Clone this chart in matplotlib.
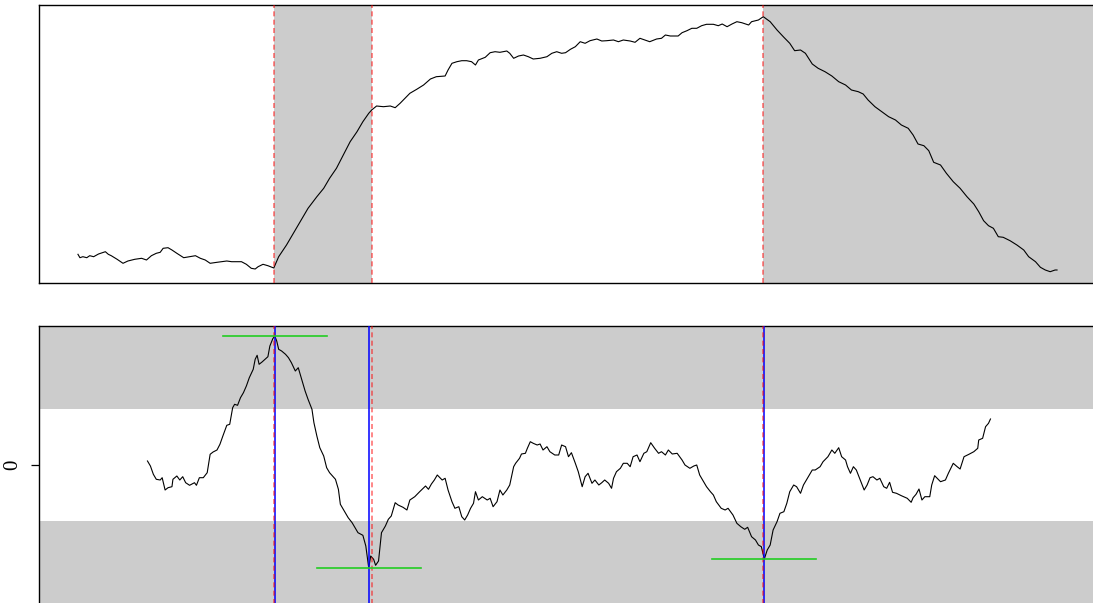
import matplotlib
matplotlib.use("Agg")
import matplotlib.pyplot as plt

# ---------------------------------------------------------------- data
# Level series (upper panel): time index and level
level_t = [
    0, 2, 5, 9, 12, 16, 21, 28, 31, 34,
    40, 46, 51, 58, 65, 70, 75, 80, 84, 87,
    92, 96, 101, 108, 114, 120, 125, 130, 135, 142,
    147, 152, 157, 162, 167, 172, 177, 181, 184, 189,
    194, 200,
    205, 213, 220, 227, 235, 244, 251, 257, 264, 271,
    278, 285, 291, 297, 300, 305, 312, 319, 324, 329,
    334, 339, 346, 353, 360, 366, 375, 378, 382, 387,
    392, 397, 402, 406, 409, 416, 421, 426, 431, 438,
    441, 445, 450, 455, 460, 465, 472, 479, 484, 489,
    494, 498, 503, 508, 513, 518, 523, 530, 535, 540,
    547, 552, 557, 564, 569, 574, 579, 584, 591, 596,
    600, 605, 613, 617, 622, 627, 632, 637, 642, 649,
    654, 658, 663, 668, 673, 678, 685, 688, 695, 700,
    707, 714, 721, 727, 732, 738, 743, 750, 756, 763,
    770, 777, 784, 790, 797, 802, 807, 814, 821, 828,
    835, 841, 848, 853, 858, 864, 869, 874, 881, 887,
    894, 901, 908, 915, 920, 925, 930, 935, 940, 945,
    952, 959, 966, 971, 978, 983, 988, 993, 998, 1000,
]
level_v = [
    25.7, 22.3, 23.3, 22.3, 24.3, 23.3, 26.0, 28.3, 25.7, 24.3,
    20.7, 16.7, 19.0, 20.7, 21.7, 20.0, 24.3, 26.7, 27.7, 31.7,
    32.3, 30.0, 26.7, 22.3, 23.3, 24.3, 21.7, 20.0, 16.7, 17.7,
    18.3, 19.0, 18.3, 18.3, 18.3, 15.7, 11.7, 11.0, 13.3, 15.7,
    14.3, 12.0,
    23.3, 35.0, 46.7, 58.3, 71.7, 83.3, 91.7, 101.7, 111.7, 125.0,
    138.3, 148.3, 158.3, 166.7, 170.0, 174.0, 173.3, 174.0, 172.3, 176.7,
    181.7, 186.7, 190.7, 195.0, 201.0, 203.3, 204.0, 210.0, 216.7, 218.3,
    219.3, 219.3, 218.3, 215.0, 220.0, 222.7, 227.3, 228.3, 227.7, 229.0,
    226.7, 221.7, 224.0, 225.0, 223.3, 221.0, 221.7, 223.3, 226.7, 228.3,
    226.7, 227.3, 230.7, 233.3, 238.3, 236.7, 239.3, 241.0, 239.0, 239.3,
    240.0, 238.3, 240.0, 239.0, 237.7, 241.7, 240.0, 238.3, 241.0, 241.7,
    245.0, 244.0, 244.0, 247.3, 249.3, 251.7, 251.7, 254.3, 255.7, 255.7,
    254.3, 256.0, 253.3, 256.0, 258.3, 257.3, 255.0, 258.3, 260.0, 263.3,
    258.3, 250.0, 242.7, 236.7, 229.3, 230.0, 226.7, 216.0, 211.7, 208.3,
    204.0, 198.3, 195.0, 190.0, 188.3, 186.0, 180.0, 173.3, 168.3, 163.3,
    160.0, 155.0, 151.7, 145.0, 136.0, 134.3, 129.3, 117.7, 115.0, 106.7,
    98.3, 91.7, 83.3, 76.0, 68.3, 59.3, 54.3, 51.7, 43.3, 42.7,
    39.3, 35.0, 30.0, 23.3, 18.3, 12.7, 10.0, 8.3, 10.0, 10.0,
]

# Oscillator series (lower panel): time index and value
osc_t = [
    71, 74, 77, 80, 84, 86, 89, 92, 96, 97,
    101, 104, 107, 110, 114, 119, 121, 124, 128, 132,
    135, 138, 142, 145, 148, 152, 155, 158, 160, 163,
    166, 169, 172, 175, 179, 181, 183, 185, 188, 191,
    194, 196, 199, 201, 203, 205, 208, 212, 215, 218,
    222, 225, 229, 232, 235, 239, 241, 244, 247, 251,
    254, 257, 263, 266, 268, 273, 276, 280, 283, 286,
    291, 294, 297, 299, 302, 304, 307, 310, 314, 317,
    320, 324, 327, 332, 336, 339, 344, 349, 355, 358,
    361, 364, 367, 372, 375, 378, 382, 385, 389, 392,
    395, 398, 401, 404, 406, 409, 413, 418, 421, 424,
    428, 431, 434, 438, 441, 445, 447, 451, 453, 457,
    459, 462, 465, 469, 472, 475, 479, 482, 487, 491,
    494, 498, 501, 504, 508, 511, 515, 518, 521, 525,
    528, 532, 535, 538, 542, 545, 547, 550, 554, 557,
    561, 564, 567, 571, 574, 578, 581, 585, 589, 593,
    596, 600, 603, 607, 612, 617, 620, 625, 629, 632,
    635, 639, 642, 646, 649, 652, 657, 661, 664, 669,
    673, 677, 681, 684, 688, 692, 695, 698, 701, 704,
    707, 710, 714, 717, 721, 724, 727, 731, 734, 738,
    741, 744, 750, 753, 758, 761, 766, 770, 773, 777,
    780, 784, 786, 789, 792, 795, 799, 803, 806, 809,
    812, 816, 819, 823, 826, 829, 832, 836, 841, 847,
    851, 853, 856, 859, 862, 865, 870, 872, 875, 881,
    886, 889, 894, 898, 901, 905, 910, 915, 919, 920,
    924, 927, 930, 932,
]
osc_v = [
    4.0, -1.0, -9.3, -14.3, -15.0, -12.7, -25.0, -22.7, -21.7, -14.3,
    -11.0, -15.0, -11.7, -17.7, -20.3, -17.7, -20.3, -12.7, -12.7, -7.7,
    10.7, 13.0, 15.0, 20.7, 29.0, 39.7, 40.7, 57.3, 60.7, 59.7,
    67.3, 72.3, 79.0, 87.3, 95.7, 105.7, 109.7, 100.7, 103.0, 105.7,
    108.3, 119.0, 126.3, 129.0, 124.0, 115.7, 114.0, 110.7, 107.3, 102.3,
    94.0, 97.3, 84.0, 74.0, 65.7, 55.7, 42.3, 29.0, 17.3, 9.0,
    -2.7, -7.7, -14.3, -24.3, -39.3, -47.7, -52.7, -57.7, -62.7, -67.7,
    -70.3, -81.0, -103.0, -91.0, -94.3, -100.3, -96.0, -67.7, -61.0, -54.3,
    -51.0, -37.7, -40.0, -42.3, -45.0, -35.0, -31.7, -26.7, -21.0, -24.3,
    -19.0, -15.0, -10.0, -15.0, -13.3, -25.0, -36.7, -43.3, -41.7, -51.7,
    -55.0, -50.0, -43.3, -38.3, -26.7, -35.0, -31.7, -35.0, -33.3, -41.7,
    -36.7, -25.0, -30.0, -25.0, -20.0, -1.7, 1.7, 6.7, 11.0, 11.7,
    16.7, 23.3, 21.7, 20.0, 21.0, 15.0, 18.3, 13.3, 10.0, 10.0,
    20.0, 18.3, 8.3, 12.3, 1.7, -6.7, -21.7, -11.7, -8.3, -18.3,
    -15.0, -20.0, -17.7, -15.0, -18.3, -23.3, -13.3, -6.7, -3.3, 1.7,
    1.7, -1.7, 8.3, 10.0, 3.3, 11.7, 13.3, 22.3, 16.7, 11.7,
    13.3, 10.0, 15.0, 11.0, 11.7, 5.0, 0.0, -3.3, -1.0, 0.0,
    -10.0, -16.7, -21.7, -26.7, -30.0, -36.7, -43.3, -45.0, -43.3, -50.0,
    -58.3, -61.7, -64.3, -62.3, -71.7, -75.0, -80.0, -81.7, -94.0, -85.0,
    -80.0, -65.0, -56.7, -48.3, -46.7, -38.3, -26.7, -20.0, -21.7, -28.3,
    -20.0, -15.0, -5.0, -5.0, -1.7, 3.3, 8.3, 15.0, 11.7, 17.3,
    8.3, 5.0, -1.7, -8.3, -1.7, -5.0, -15.0, -25.0, -20.0, -12.7,
    -11.7, -15.0, -13.3, -21.7, -23.3, -17.3, -27.3, -28.3, -30.7, -33.3,
    -37.3, -32.7, -29.3, -24.0, -35.0, -31.7, -31.7, -20.0, -10.7, -16.7,
    -15.0, -8.3, 1.7, -1.7, -4.0, 8.3, 10.7, 13.3, 16.7, 25.0,
    26.7, 38.3, 41.7, 46.0,
]

# Regime breakpoints (shared by both panels)
breakpoints = [200, 300, 700]
# Shaded regimes in the upper panel: (start, end)
regimes = [(200, 300), (700, 1100)]

# Oscillator extremes: time and value
extreme_t = [201, 297, 701]
extreme_v = [129.0, -103.0, -94.0]

# Oscillator band threshold
threshold = 56.0

# ---------------------------------------------------------------- figure
W, H = 1093, 603
fig = plt.figure(figsize=(W / 100, H / 100), dpi=100)
left = 38.8 / W
width = (1096.2 - 38.8) / W
ax_top = fig.add_axes([left, 1 - 283 / H, width, 278 / H])
ax_bot = fig.add_axes([left, 1 - 604 / H, width, 278 / H])

XLIM = (-40, 1040)
SHADE = "#cccccc"
RED_KW = dict(color="red", alpha=0.55, lw=1.2, linestyle=(0, (3, 2)))

for ax in (ax_top, ax_bot):
    for sp in ax.spines.values():
        sp.set_linewidth(1.0)
        sp.set_color("black")
    ax.set_xlim(*XLIM)
    ax.set_xticks([])

# upper panel
for a, b in regimes:
    ax_top.axvspan(a, b, color=SHADE, lw=0, zorder=0)
ax_top.plot(level_t, level_v, color="black", lw=0.8, zorder=2)
for bp in breakpoints:
    ax_top.axvline(bp, zorder=3, **RED_KW)
ax_top.set_ylim(-3, 275)
ax_top.set_yticks([])

# lower panel
ax_bot.axhspan(threshold, 1000, color=SHADE, lw=0, zorder=0)
ax_bot.axhspan(-1000, -threshold, color=SHADE, lw=0, zorder=0)
ax_bot.plot(osc_t, osc_v, color="black", lw=0.8, zorder=2)
for et in extreme_t:
    ax_bot.axvline(et, color="blue", alpha=0.85, lw=1.3, zorder=3)
for bp in breakpoints:
    ax_bot.axvline(bp, zorder=4, **RED_KW)
half = 53
for et, ev in zip(extreme_t, extreme_v):
    ax_bot.plot([et - half, et + half], [ev, ev], color="#22cc22", lw=1.2, zorder=5)
ax_bot.set_ylim(-139, 139)
ax_bot.set_yticks([0])
ax_bot.set_yticklabels(["0"], rotation=90, family="Liberation Serif", fontsize=15,
                       va="center")
ax_bot.tick_params(axis="y", length=6, width=0.9, pad=6)

fig.savefig("out.png", dpi=100)
